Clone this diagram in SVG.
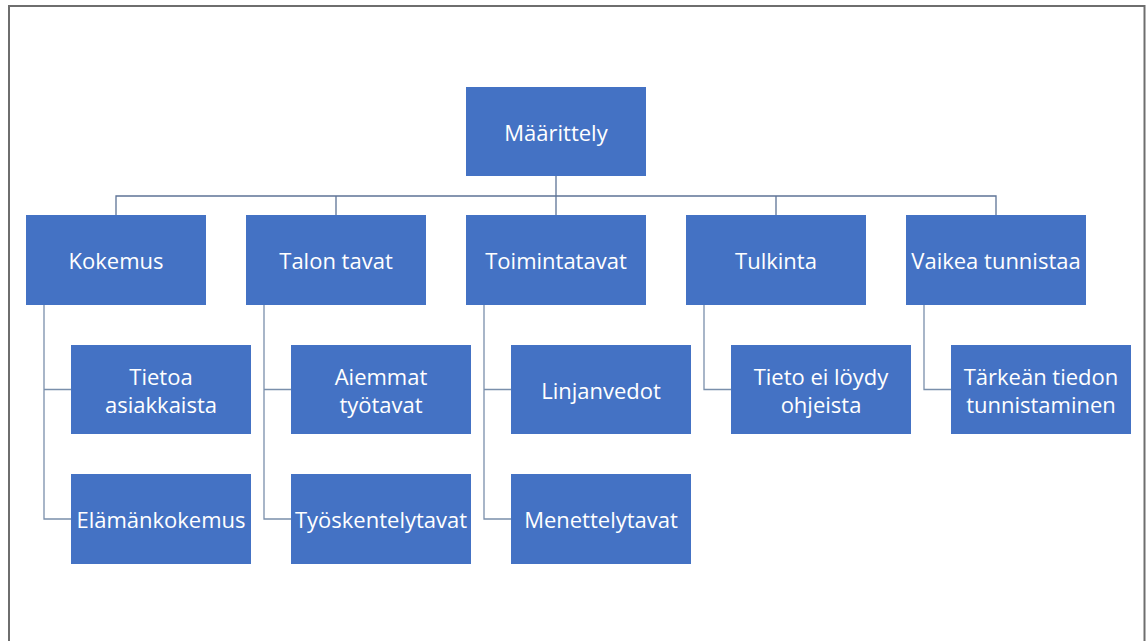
<svg xmlns="http://www.w3.org/2000/svg" width="1147" height="641" viewBox="0 0 1147 641">
  <style>
    .box { fill: #4472c4; }
    .lbl { fill: #ffffff; font-family: "Open Sans", "Noto Sans", "Liberation Sans", sans-serif; font-size: 22px; text-anchor: middle; dominant-baseline: central; }
    .link { fill: none; stroke: #7a8fab; stroke-width: 1.3; }
    .bus { fill: none; stroke: #5d7396; stroke-width: 1.3; }
  </style>
  <rect x="0" y="0" width="1147" height="641" fill="#ffffff"/>
  <!-- page frame -->
  <rect x="9" y="6" width="1135.5" height="640" fill="none" stroke="#6e6e6e" stroke-width="2"/>

  <g id="connectors">
    <!-- root to first level -->
    <path class="bus" d="M556 176 V196 M116 215 V196 H996 V215 M336 196 V215 M556 196 V215 M776 196 V215"/>
    <!-- first level to second level -->
    <path class="link" d="M44 305 V519 H71 M44 389.5 H71"/>
    <path class="link" d="M264 305 V519 H291 M264 389.5 H291"/>
    <path class="link" d="M484 305 V519 H511 M484 389.5 H511"/>
    <path class="link" d="M704 305 V389.5 H731"/>
    <path class="link" d="M924 305 V389.5 H951"/>
  </g>

  <g id="maarittely"><rect class="box" x="466" y="87" width="180" height="89"/><text class="lbl" x="556" y="131.5">Määrittely</text></g>

  <g id="kokemus"><rect class="box" x="26" y="215" width="180" height="90"/><text class="lbl" x="116" y="260">Kokemus</text></g>
  <g id="talon-tavat"><rect class="box" x="246" y="215" width="180" height="90"/><text class="lbl" x="336" y="260">Talon tavat</text></g>
  <g id="toimintatavat"><rect class="box" x="466" y="215" width="180" height="90"/><text class="lbl" x="556" y="260">Toimintatavat</text></g>
  <g id="tulkinta"><rect class="box" x="686" y="215" width="180" height="90"/><text class="lbl" x="776" y="260">Tulkinta</text></g>
  <g id="vaikea-tunnistaa"><rect class="box" x="906" y="215" width="180" height="90"/><text class="lbl" x="996" y="260">Vaikea tunnistaa</text></g>

  <g id="tietoa-asiakkaista"><rect class="box" x="71" y="345" width="180" height="89"/><text class="lbl" x="161" y="375.5">Tietoa</text><text class="lbl" x="161" y="403.5">asiakkaista</text></g>
  <g id="elamankokemus"><rect class="box" x="71" y="474" width="180" height="90"/><text class="lbl" x="161" y="519">Elämänkokemus</text></g>

  <g id="aiemmat-tyotavat"><rect class="box" x="291" y="345" width="180" height="89"/><text class="lbl" x="381" y="375.5">Aiemmat</text><text class="lbl" x="381" y="403.5">työtavat</text></g>
  <g id="tyoskentelytavat"><rect class="box" x="291" y="474" width="180" height="90"/><text class="lbl" x="381" y="519">Työskentelytavat</text></g>

  <g id="linjanvedot"><rect class="box" x="511" y="345" width="180" height="89"/><text class="lbl" x="601" y="389.5">Linjanvedot</text></g>
  <g id="menettelytavat"><rect class="box" x="511" y="474" width="180" height="90"/><text class="lbl" x="601" y="519">Menettelytavat</text></g>

  <g id="tieto-ei-loydy"><rect class="box" x="731" y="345" width="180" height="89"/><text class="lbl" x="821" y="375.5">Tieto ei löydy</text><text class="lbl" x="821" y="403.5">ohjeista</text></g>

  <g id="tarkean-tiedon"><rect class="box" x="951" y="345" width="180" height="89"/><text class="lbl" x="1041" y="375.5">Tärkeän tiedon</text><text class="lbl" x="1041" y="403.5">tunnistaminen</text></g>
</svg>
